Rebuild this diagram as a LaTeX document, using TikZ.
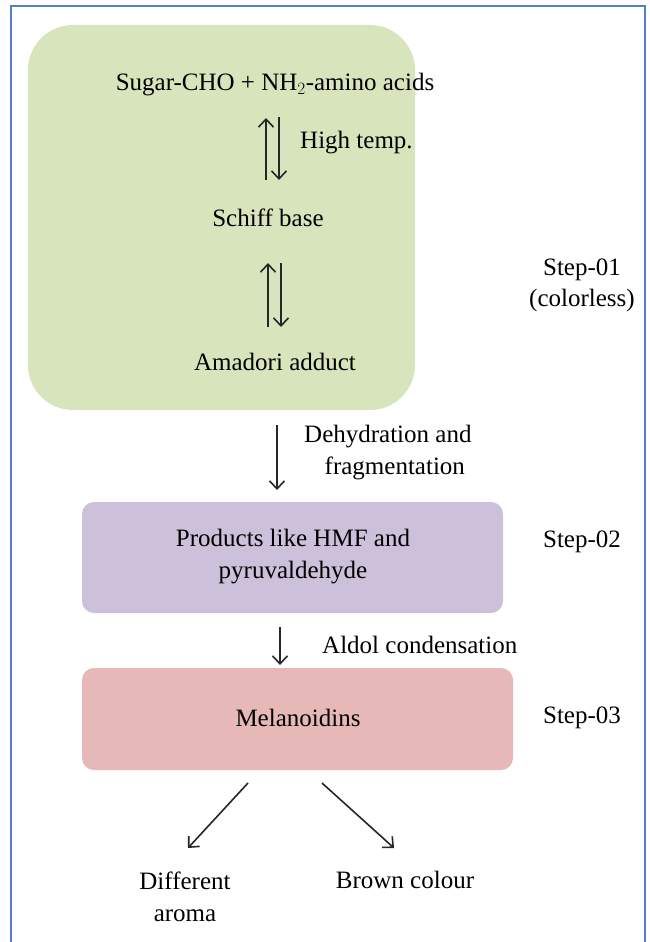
\documentclass[tikz,border=0pt]{standalone}
\usepackage{fontspec}
\setmainfont{Liberation Serif}
\usetikzlibrary{arrows.meta}
\definecolor{gbox}{RGB}{216,228,188}
\definecolor{pbox}{RGB}{204,192,218}
\definecolor{rbox}{RGB}{230,184,183}
\definecolor{frame}{RGB}{84,130,200}
\begin{document}
\begin{tikzpicture}[x=1pt,y=-1pt,
  txt/.style={font=\fontsize{25}{29}\selectfont, inner sep=0pt, align=center},
  arr/.style={-{Straight Barb[length=8pt,width=15pt]}, line width=1.6pt, black!85}]
\useasboundingbox (0,0) rectangle (649,942);
\fill[white] (0,0) rectangle (649,942);
\draw[frame, line width=2pt] (11,945) -- (11,6) -- (645,6) -- (645,945);
% boxes
\fill[gbox, rounded corners=45pt] (28,25) rectangle (415,410);
\fill[pbox, rounded corners=12pt] (82,502) rectangle (503,613);
\fill[rbox, rounded corners=12pt] (82,668) rectangle (513,770);
% texts
\node[txt] (sugar) at (275,85) {Sugar-CHO + NH$_2$-amino acids};
\node[txt, anchor=west] (ht) at (300,143) {High temp.};
\node[txt] (schiff) at (268,218) {Schiff base};
\node[txt] (amadori) at (275,362) {Amadori adduct};
\node[txt] (s1) at (582,285) {Step-01\\[2pt](colorless)};
\node[txt, anchor=west] (dehyd) at (304,453) {Dehydration and\\[3pt]\hspace*{14pt}fragmentation};
\node[txt] (prod) at (293,557) {Products like HMF and\\[3pt]pyruvaldehyde};
\node[txt] (s2) at (582,542) {Step-02};
\node[txt, anchor=west] (aldol) at (322,645) {Aldol condensation};
\node[txt] (mel) at (298,718) {Melanoidins};
\node[txt] (s3) at (582,718) {Step-03};
\node[txt] (diff) at (185,897) {Different\\[3pt]aroma};
\node[txt] (brown) at (405,880) {Brown colour};
% coordinates for arrows
\coordinate (a1t) at (266,118); \coordinate (a1b) at (266,180);
\coordinate (b1t) at (279,117); \coordinate (b1b) at (279,180);
\coordinate (a2t) at (268,263); \coordinate (a2b) at (268,327);
\coordinate (b2t) at (281,263); \coordinate (b2b) at (281,327);
\coordinate (d1t) at (277,425); \coordinate (d1b) at (277,490);
\coordinate (d2t) at (280,627); \coordinate (d2b) at (280,665);
\coordinate (l1) at (248,783); \coordinate (l2) at (188,848);
\coordinate (r1) at (322,783); \coordinate (r2) at (394,848);
\draw[arr] (a1b) -- (a1t);
\draw[arr] (b1t) -- (b1b);
\draw[arr] (a2b) -- (a2t);
\draw[arr] (b2t) -- (b2b);
\draw[arr] (d1t) -- (d1b);
\draw[arr] (d2t) -- (d2b);
\draw[arr] (l1) -- (l2);
\draw[arr] (r1) -- (r2);
\end{tikzpicture}
\end{document}
